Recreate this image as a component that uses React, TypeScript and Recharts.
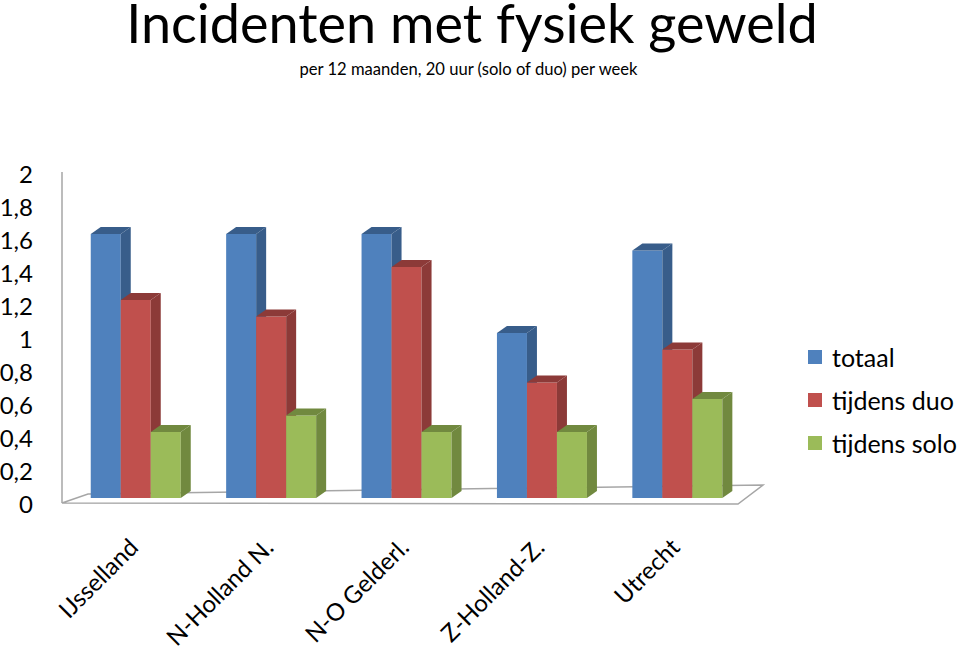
import { BarChart, Bar, XAxis, YAxis, Legend } from 'recharts';

const regions = ['IJsselland', 'N-Holland N.', 'N-O Gelderl.', 'Z-Holland-Z.', 'Utrecht'];
const totaal = [1.6, 1.6, 1.6, 1.0, 1.5];
const tijdensDuo = [1.2, 1.1, 1.4, 0.7, 0.9];
const tijdensSolo = [0.4, 0.5, 0.4, 0.4, 0.6];
const yTicks = [0, 0.2, 0.4, 0.6, 0.8, 1, 1.2, 1.4, 1.6, 1.8, 2];

const series = [
  { key: 'totaal', name: 'totaal', front: '#4F81BD', side: '#385D8A' },
  { key: 'duo', name: 'tijdens duo', front: '#C0504D', side: '#8C3A38' },
  { key: 'solo', name: 'tijdens solo', front: '#9BBB59', side: '#71893F' },
];

const data = regions.map((name, i) => ({
  name,
  totaal: totaal[i],
  duo: tijdensDuo[i],
  solo: tijdensSolo[i],
}));

const FONT = 'Lato, "Open Sans", sans-serif';
const DX = 10;
const DY = 7;

const make3DBar = (front: string, side: string) => (props: any) => {
  const { x, y, width, height } = props;
  if (!height) return <g />;
  return (
    <g>
      <rect x={x} y={y} width={width} height={height} fill={front} />
      <polygon
        points={`${x + width},${y} ${x + width + DX},${y - DY} ${x + width + DX},${y + height - DY} ${x + width},${y + height}`}
        fill={side}
      />
      <polygon
        points={`${x},${y} ${x + DX},${y - DY} ${x + width + DX},${y - DY} ${x + width},${y}`}
        fill={side}
      />
    </g>
  );
};

const XTick = (props: any) => {
  const { x, payload } = props;
  return (
    <text
      x={0}
      y={0}
      transform={`translate(${x + 4},549) rotate(-45)`}
      textAnchor="end"
      fontSize={24}
      fontFamily={FONT}
      fill="#000"
    >
      {payload.value}
    </text>
  );
};

const YTick = (props: any) => {
  const { y, payload } = props;
  return (
    <text x={33} y={y + 5} textAnchor="end" dominantBaseline="central" fontSize={24} fontFamily={FONT} fill="#000">
      {String(payload.value).replace('.', ',')}
    </text>
  );
};

const LegendBox = () => (
  <div style={{ fontFamily: FONT, fontSize: 25, color: '#000' }}>
    {series.map((s) => (
      <div key={s.key} style={{ display: 'flex', alignItems: 'center', height: 43 }}>
        <span style={{ display: 'inline-block', width: 14, height: 14, background: s.front, marginRight: 10 }} />
        <span>{s.name}</span>
      </div>
    ))}
  </div>
);

export default function App() {
  return (
    <div style={{ position: 'absolute', left: 0, top: 0, width: 960, height: 653, background: '#fff', fontFamily: FONT }}>
      <div style={{ position: 'absolute', left: 0, width: 944, top: 1, textAlign: 'center', fontSize: 54, lineHeight: '44px' }}>
        Incidenten met fysiek geweld
      </div>
      <div style={{ position: 'absolute', left: 0, width: 937, top: 58, textAlign: 'center', fontSize: 16.6, lineHeight: '22px' }}>
        per 12 maanden, 20 uur (solo of duo) per week
      </div>
      <svg width={960} height={653} style={{ position: 'absolute', left: 0, top: 0 }}>
        <g stroke="#A6A6A6" strokeWidth={1.5} fill="none">
          <line x1={62} y1={172} x2={62} y2={503} />
          <polygon points="62,503 738,504 763,485 88,494" />
        </g>
      </svg>
      <div style={{ position: 'absolute', left: 0, top: 0 }}>
        <BarChart
          width={960}
          height={653}
          data={data}
          margin={{ top: 168, right: 215, left: 67, bottom: 154 }}
          barCategoryGap="16.8%"
          barGap={0}
        >
          <XAxis dataKey="name" height={1} axisLine={false} tickLine={false} tick={<XTick />} interval={0} />
          <YAxis width={1} domain={[0, 2]} ticks={yTicks} axisLine={false} tickLine={false} tick={<YTick />} interval={0} />
          <Legend
            layout="horizontal"
            verticalAlign="middle"
            align="center"
            content={<LegendBox />}
            wrapperStyle={{ left: 808, top: 335, width: 160 }}
          />
          {series.map((s) => (
            <Bar
              key={s.key}
              dataKey={s.key}
              name={s.name}
              fill={s.front}
              isAnimationActive={false}
              shape={make3DBar(s.front, s.side)}
            />
          ))}
        </BarChart>
      </div>
    </div>
  );
}
